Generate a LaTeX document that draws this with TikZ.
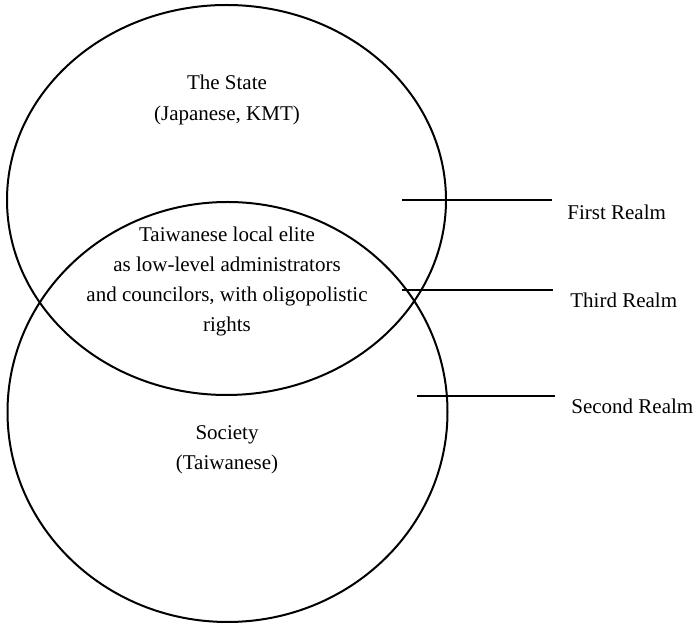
\documentclass[tikz,border=0pt]{standalone}
\usepackage{fontspec}
\setmainfont{Liberation Serif}
\usetikzlibrary{shapes.geometric}
\begin{document}
\begin{tikzpicture}[x=0.5pt,y=-0.5pt,
  realm/.style={draw,ellipse,line width=1pt,inner sep=0pt,outer sep=0pt},
  txt/.style={align=center,font=\fontsize{10.5}{15}\selectfont,inner sep=0pt},
  lbl/.style={anchor=west,font=\fontsize{10.5}{13}\selectfont,inner sep=0pt},
  leader/.style={line width=1pt}]
\useasboundingbox[fill=white] (0,0) rectangle (698,624);
\node[realm,minimum width=219.5pt,minimum height=195pt] (state) at (226.5,200) {};
\node[realm,minimum width=220pt,minimum height=210pt] (society) at (227.5,412) {};
\node[txt] (statetxt) at (227,100) {The State\\[0.5pt](Japanese, KMT)};
\node[txt] (elite) at (227,281) {Taiwanese local elite\\as low-level administrators\\and councilors, with oligopolistic\\rights};
\node[txt] (soctxt) at (227,450) {Society\\(Taiwanese)};
\node[lbl] (first) at (567,212) {First Realm};
\node[lbl] (third) at (570,300) {Third Realm};
\node[lbl] (second) at (571,406) {Second Realm};
\coordinate (f1) at (402,200); \coordinate (f2) at (552,200);
\coordinate (t1) at (402,290); \coordinate (t2) at (553,290);
\coordinate (s1) at (417,396); \coordinate (s2) at (555,396);
\draw[leader] (f1) -- (f2);
\draw[leader] (t1) -- (t2);
\draw[leader] (s1) -- (s2);
\end{tikzpicture}
\end{document}
